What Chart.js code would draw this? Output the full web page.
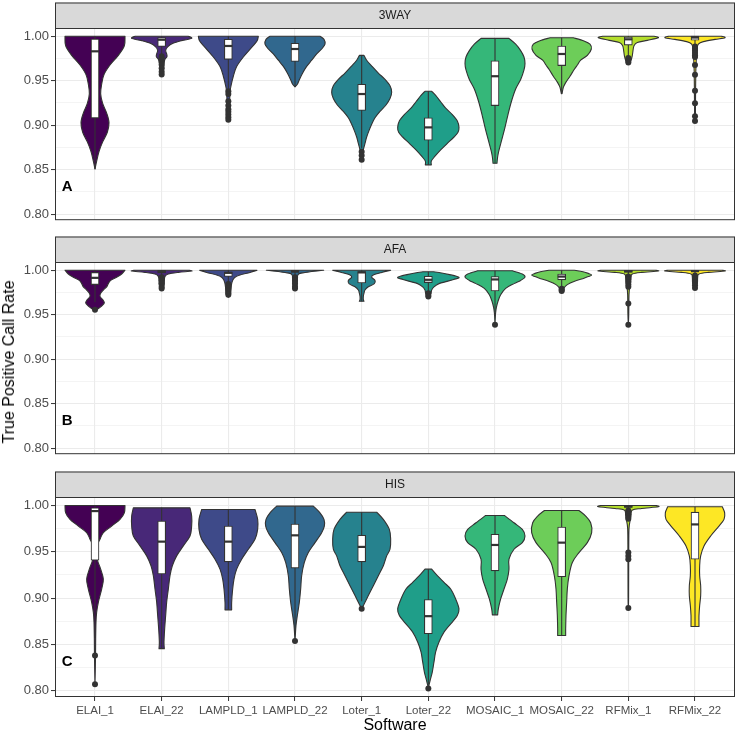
<!DOCTYPE html>
<html><head><meta charset="utf-8">
<script src="https://cdn.jsdelivr.net/npm/chart.js@4.4.1/dist/chart.umd.min.js"></script>
<style>
html,body{margin:0;padding:0;background:#fff;}
#wrap{position:relative;width:738px;height:735px;overflow:hidden;font-family:"Liberation Sans",Arial,sans-serif;background:#fff;}
canvas{position:absolute;left:0;}
#ytitle{position:absolute;left:9px;top:362px;transform:translate(-50%,-50%) rotate(-90deg);font-size:16px;white-space:nowrap;color:#000;line-height:1;}
</style></head>
<body><div id="wrap">
<canvas id="cA" width="738" height="230" style="top:0px"></canvas>
<canvas id="cB" width="738" height="230" style="top:234px"></canvas>
<canvas id="cC" width="738" height="267" style="top:468px"></canvas>
<div id="ytitle">True Positive Call Rate</div>
</div>
<script>
// ---------- data ----------
const categories = ['ELAI_1','ELAI_22','LAMPLD_1','LAMPLD_22','Loter_1','Loter_22','MOSAIC_1','MOSAIC_22','RFMix_1','RFMix_22'];
const panelNames = ['3WAY','AFA','HIS'];
const panelLetters = ['A','B','C'];
const yTickValues = [0.80,0.825,0.85,0.875,0.90,0.925,0.95,0.975,1.00];
const palette = ['#440154','#482878','#3E4A89','#31688E','#26828E','#1F9E89','#35B779','#6DCD59','#B4DE2C','#FDE725'];

// Panel A (3WAY): box stats
const q1A  = [0.908, 0.9885, 0.974, 0.9716, 0.9165, 0.883, 0.922, 0.967, 0.990, 0.9955];
const medA = [0.983, 0.996, 0.989, 0.9856, 0.935, 0.8975, 0.955, 0.980, 0.9965, 0.9985];
const q3A  = [0.9968, 0.9985, 0.9965, 0.992, 0.946, 0.9083, 0.9723, 0.989, 0.999, 1.000];
const loA  = [0.8506, 0.979, 0.941, 0.943, 0.874, 0.8554, 0.8572, 0.9353, 0.977, 0.9888];
const hiA  = [1.000, 1.000, 1.000, 1.000, 0.9784, 0.9381, 0.9975, 0.9982, 1.000, 1.000];
const outA = [[], [0.9775,0.975,0.971,0.968,0.964,0.960,0.957], [0.938,0.935,0.927,0.922,0.918,0.915,0.912,0.909,0.906], [], [0.870,0.866,0.861], [], [], [], [0.9755,0.974,0.972,0.9705], [0.9885,0.986,0.9835,0.981,0.9785,0.9766,0.9676,0.9568,0.9388,0.9245,0.9101,0.9047]];
// Panel A violin profiles: [value, half-width in category units]
const violinA = [
 [[1.0,0.45],[0.9892,0.44],[0.9784,0.35],[0.9676,0.225],[0.9568,0.135],[0.946,0.10],[0.9352,0.085],[0.9244,0.115],[0.9136,0.175],[0.9028,0.21],[0.892,0.185],[0.8812,0.115],[0.8704,0.06],[0.8596,0.025],[0.8506,0]],
 [[1.0,0.40],[0.9975,0.45],[0.995,0.30],[0.992,0.17],[0.988,0.09],[0.984,0.06],[0.980,0.075],[0.977,0.08],[0.974,0.05],[0.970,0.035],[0.965,0.03],[0.960,0.025],[0.956,0]],
 [[1.0,0.45],[0.9946,0.43],[0.9874,0.35],[0.9766,0.225],[0.9658,0.125],[0.955,0.075],[0.9442,0.04],[0.937,0.025],[0.925,0.02],[0.915,0.02],[0.906,0]],
 [[1.0,0.375],[0.9964,0.435],[0.991,0.45],[0.9856,0.40],[0.980,0.325],[0.973,0.25],[0.966,0.175],[0.9586,0.115],[0.951,0.065],[0.946,0.035],[0.943,0]],
 [[0.9784,0.035],[0.973,0.075],[0.9658,0.16],[0.9586,0.25],[0.9514,0.35],[0.9442,0.425],[0.937,0.45],[0.9299,0.425],[0.9227,0.365],[0.9155,0.275],[0.9083,0.2],[0.9011,0.15],[0.8939,0.11],[0.8867,0.075],[0.8795,0.05],[0.8723,0.025],[0.8651,0.012],[0.8605,0]],
 [[0.9381,0.05],[0.9335,0.11],[0.9263,0.185],[0.9191,0.26],[0.9119,0.36],[0.9047,0.435],[0.8975,0.46],[0.8921,0.445],[0.8867,0.385],[0.8795,0.285],[0.8723,0.185],[0.8651,0.10],[0.8597,0.045],[0.8554,0.045]],
 [[0.9975,0.21],[0.991,0.31],[0.9838,0.385],[0.9766,0.435],[0.9694,0.45],[0.9622,0.435],[0.9514,0.385],[0.9406,0.31],[0.9263,0.245],[0.9119,0.195],[0.8975,0.15],[0.8831,0.10],[0.8687,0.05],[0.8615,0.035],[0.8572,0.03]],
 [[0.9982,0.175],[0.9946,0.335],[0.991,0.425],[0.9856,0.445],[0.9784,0.385],[0.973,0.285],[0.9676,0.235],[0.9622,0.185],[0.955,0.125],[0.9478,0.06],[0.9424,0.025],[0.9353,0.005]],
 [[1.0,0.385],[0.9982,0.45],[0.9953,0.285],[0.9928,0.135],[0.9892,0.085],[0.9838,0.07],[0.9784,0.06],[0.973,0.04],[0.9687,0]],
 [[1.0,0.40],[0.9982,0.45],[0.9964,0.30],[0.9939,0.125],[0.991,0.05],[0.985,0.03],[0.975,0.02],[0.96,0.012],[0.93,0.008],[0.905,0.006],[0.9045,0]]
];

// Panel B (AFA)
const q1B  = [0.9838, 0.997, 0.993, 0.9975, 0.9856, 0.986, 0.9766, 0.9892, 0.9975, 0.998];
const medB = [0.9914, 0.9985, 0.997, 0.9988, 0.9975, 0.9892, 0.9896, 0.9928, 0.999, 0.999];
const q3B  = [0.9975, 0.9995, 0.998, 0.9998, 0.9985, 0.9932, 0.9928, 0.9957, 0.9998, 0.9998];
const loB  = [0.964, 0.9935, 0.986, 0.994, 0.9651, 0.9755, 0.9525, 0.980, 0.994, 0.9955];
const hiB  = [1.0, 1.0, 1.0, 1.0, 1.0, 0.9982, 0.9993, 1.0, 1.0, 1.0];
const outB = [[0.9555], [0.992,0.9885,0.985,0.9813,0.9795], [0.9845,0.9813,0.9795,0.9777,0.9759,0.9741,0.9723], [0.992,0.9885,0.985,0.9813,0.9795], [], [0.9741,0.972,0.9705], [0.9388], [0.979,0.9777,0.9766], [0.993,0.990,0.9867,0.9838,0.9813,0.9626,0.9388], [0.9939,0.9903,0.9867,0.983,0.980]];
const violinB = [
 [[1.0,0.45],[0.9957,0.40],[0.9921,0.325],[0.9885,0.235],[0.9849,0.20],[0.9813,0.175],[0.9777,0.125],[0.9741,0.085],[0.9705,0.075],[0.9669,0.115],[0.9633,0.14],[0.9597,0.10],[0.9561,0.035],[0.9536,0]],
 [[1.0,0.40],[0.999,0.45],[0.9975,0.25],[0.9957,0.10],[0.993,0.05],[0.9885,0.04],[0.983,0.035],[0.9784,0]],
 [[1.0,0.43],[0.9975,0.325],[0.9946,0.175],[0.9921,0.10],[0.9885,0.065],[0.9849,0.05],[0.9795,0.04],[0.9723,0.025],[0.9698,0]],
 [[1.0,0.43],[0.9982,0.225],[0.9964,0.075],[0.9939,0.04],[0.988,0.035],[0.980,0.025],[0.977,0]],
 [[1.0,0.435],[0.9975,0.30],[0.9946,0.175],[0.9921,0.15],[0.9885,0.20],[0.9849,0.19],[0.9813,0.10],[0.9777,0.05],[0.9741,0.035],[0.9705,0.025],[0.9669,0.025],[0.9651,0.035]],
 [[0.9982,0.08],[0.9968,0.2],[0.995,0.32],[0.9932,0.42],[0.9914,0.46],[0.9896,0.38],[0.9874,0.28],[0.9849,0.16],[0.9813,0.085],[0.9777,0.05],[0.9741,0.04],[0.9701,0]],
 [[0.9993,0.26],[0.9957,0.41],[0.9921,0.45],[0.9885,0.385],[0.9849,0.285],[0.9795,0.16],[0.9723,0.085],[0.9651,0.045],[0.9579,0.02],[0.9525,0.01],[0.9489,0.006],[0.9388,0]],
 [[1.0,0.19],[0.9982,0.32],[0.9964,0.40],[0.9946,0.45],[0.9928,0.40],[0.991,0.335],[0.9874,0.185],[0.9838,0.085],[0.9802,0.035],[0.9759,0]],
 [[1.0,0.40],[0.999,0.45],[0.9975,0.2],[0.9957,0.06],[0.992,0.04],[0.9867,0.035],[0.9813,0.02],[0.972,0.01],[0.95,0.006],[0.9388,0]],
 [[1.0,0.40],[0.999,0.45],[0.9975,0.2],[0.9957,0.06],[0.992,0.04],[0.985,0.035],[0.9795,0]]
];

// Panel C (HIS)
const q1C  = [0.941, 0.926, 0.9392, 0.9324, 0.9392, 0.8615, 0.9295, 0.9231, 0.998, 0.942];
const medC = [0.994, 0.961, 0.961, 0.9678, 0.9553, 0.8805, 0.9574, 0.9599, 0.999, 0.9796];
const q3C  = [0.9975, 0.9832, 0.9778, 0.980, 0.9678, 0.8984, 0.9689, 0.9767, 0.9998, 0.9928];
const loC  = [0.857, 0.8454, 0.8873, 0.861, 0.8965, 0.8065, 0.8819, 0.8597, 0.9955, 0.8694];
const hiC  = [1.0, 0.9975, 0.9957, 0.9993, 0.9928, 0.9313, 0.9893, 0.9946, 1.0, 0.9986];
const outC = [[0.838,0.807], [], [], [0.8537], [0.8884], [0.8025], [], [], [0.9945,0.9932,0.9903,0.9878,0.9857,0.9492,0.9456,0.942,0.8894], []];
const violinC = [
 [[1.0,0.45],[0.9921,0.44],[0.985,0.375],[0.9778,0.25],[0.9707,0.125],[0.9635,0.075],[0.9564,0.035],[0.942,0.035],[0.9313,0.085],[0.9206,0.125],[0.9098,0.10],[0.8955,0.05],[0.8848,0.025],[0.8741,0.015],[0.856,0.01],[0.838,0.008],[0.807,0]],
 [[0.9975,0.425],[0.9886,0.45],[0.9778,0.45],[0.9671,0.425],[0.9564,0.325],[0.9456,0.225],[0.9349,0.16],[0.9242,0.125],[0.9098,0.10],[0.8955,0.075],[0.8812,0.06],[0.8669,0.045],[0.8526,0.035],[0.8454,0.04]],
 [[0.9957,0.40],[0.985,0.44],[0.9742,0.44],[0.9635,0.40],[0.9528,0.30],[0.942,0.20],[0.9313,0.125],[0.9206,0.085],[0.9098,0.065],[0.8955,0.05],[0.8873,0.05]],
 [[0.9993,0.275],[0.9921,0.375],[0.985,0.435],[0.9778,0.44],[0.9707,0.40],[0.9599,0.30],[0.9492,0.20],[0.9385,0.14],[0.9242,0.10],[0.9098,0.085],[0.8955,0.065],[0.8812,0.035],[0.8705,0.015],[0.8597,0.005],[0.8537,0]],
 [[0.9928,0.225],[0.985,0.325],[0.9742,0.415],[0.9635,0.435],[0.9528,0.425],[0.9456,0.375],[0.9349,0.325],[0.9242,0.25],[0.9134,0.175],[0.9027,0.10],[0.8955,0.05],[0.8884,0]],
 [[0.9313,0.05],[0.9242,0.135],[0.917,0.235],[0.9098,0.335],[0.8991,0.41],[0.8884,0.46],[0.8812,0.435],[0.8741,0.36],[0.8633,0.235],[0.8526,0.16],[0.8419,0.11],[0.8311,0.085],[0.8204,0.06],[0.8132,0.035],[0.8061,0.01],[0.8025,0]],
 [[0.9893,0.14],[0.9814,0.285],[0.9742,0.41],[0.9671,0.45],[0.9599,0.41],[0.9528,0.285],[0.942,0.21],[0.9313,0.21],[0.9206,0.185],[0.9098,0.135],[0.8991,0.085],[0.8884,0.05],[0.8819,0.04]],
 [[0.9946,0.26],[0.9886,0.36],[0.9814,0.435],[0.9707,0.45],[0.9599,0.385],[0.9492,0.26],[0.9385,0.16],[0.9242,0.11],[0.9098,0.085],[0.8955,0.075],[0.8812,0.065],[0.8669,0.06],[0.8597,0.06]],
 [[1.0,0.42],[0.9986,0.45],[0.9968,0.2],[0.995,0.06],[0.99,0.04],[0.985,0.03],[0.975,0.01],[0.95,0.006],[0.90,0.004],[0.8894,0]],
 [[0.9986,0.41],[0.9921,0.445],[0.985,0.435],[0.9778,0.36],[0.9671,0.235],[0.9564,0.135],[0.9456,0.085],[0.9349,0.07],[0.9242,0.07],[0.9134,0.085],[0.9027,0.085],[0.892,0.07],[0.8812,0.06],[0.8694,0.06]]
];

// ---------- layout / style ----------
const FONT = '"Liberation Sans", Arial, Helvetica, sans-serif';
const Y_MIN = 0.7932, Y_MAX = 1.0092;
const panels = {
  cA: {name: panelNames[0], letter: panelLetters[0], q1: q1A, med: medA, q3: q3A, lo: loA, hi: hiA, out: outA, violin: violinA, padTop: 28, bottom: false},
  cB: {name: panelNames[1], letter: panelLetters[1], q1: q1B, med: medB, q3: q3B, lo: loB, hi: hiB, out: outB, violin: violinB, padTop: 28, bottom: false},
  cC: {name: panelNames[2], letter: panelLetters[2], q1: q1C, med: medC, q3: q3C, lo: loC, hi: hiC, out: outC, violin: violinC, padTop: 29, bottom: true}
};
const isMajor = v => Math.abs(v * 20 - Math.round(v * 20)) < 1e-6;

function sidePath(ctx, pts, cx, right, first) {
  if (first) ctx.moveTo(pts[0][0], pts[0][1]); else ctx.lineTo(pts[0][0], pts[0][1]);
  const n = pts.length;
  const clampX = x => right ? Math.max(x, cx) : Math.min(x, cx);
  for (let i = 0; i < n - 1; i++) {
    const p0 = pts[i - 1] || pts[i], p1 = pts[i], p2 = pts[i + 1], p3 = pts[i + 2] || pts[i + 1];
    const c1x = clampX(p1[0] + (p2[0] - p0[0]) / 6), c1y = p1[1] + (p2[1] - p0[1]) / 6;
    const c2x = clampX(p2[0] - (p3[0] - p1[0]) / 6), c2y = p2[1] - (p3[1] - p1[1]) / 6;
    ctx.bezierCurveTo(c1x, c1y, c2x, c2y, p2[0], p2[1]);
  }
}

const panelPlugin = {
  id: 'violinPanel',
  beforeDatasetsDraw(chart) {
    const P = panels[chart.canvas.id];
    const xs = chart.scales.x, ys = chart.scales.y, ctx = chart.ctx, a = chart.chartArea;
    const unit = xs.getPixelForValue(1) - xs.getPixelForValue(0);
    ctx.save();
    ctx.beginPath(); ctx.rect(a.left, a.top, a.right - a.left, a.bottom - a.top); ctx.clip();
    P.violin.forEach((prof, i) => {
      const cx = xs.getPixelForValue(i);
      const R = prof.map(p => [cx + p[1] * unit, ys.getPixelForValue(p[0])]);
      const L = prof.map(p => [cx - p[1] * unit, ys.getPixelForValue(p[0])]).reverse();
      ctx.beginPath();
      sidePath(ctx, R, cx, true, true);
      sidePath(ctx, L, cx, false, false);
      ctx.closePath();
      ctx.fillStyle = palette[i];
      ctx.fill();
      ctx.lineWidth = 1.1; ctx.strokeStyle = '#333333'; ctx.lineJoin = 'round';
      ctx.stroke();
    });
    ctx.strokeStyle = '#333333'; ctx.lineWidth = 1.1;
    categories.forEach((c, i) => {
      const x = xs.getPixelForValue(i);
      ctx.beginPath();
      ctx.moveTo(x, ys.getPixelForValue(P.lo[i]));
      ctx.lineTo(x, ys.getPixelForValue(P.hi[i]));
      ctx.stroke();
    });
    ctx.restore();
  },
  afterDatasetDraw(chart, args) {
    if (args.index !== 0) return;
    const P = panels[chart.canvas.id];
    const ys = chart.scales.y, ctx = chart.ctx;
    const meta = chart.getDatasetMeta(0);
    ctx.save();
    ctx.strokeStyle = '#333333'; ctx.lineWidth = 2.2; ctx.lineCap = 'butt';
    meta.data.forEach((el, i) => {
      const y = ys.getPixelForValue(P.med[i]);
      ctx.beginPath(); ctx.moveTo(el.x - el.width / 2, y); ctx.lineTo(el.x + el.width / 2, y); ctx.stroke();
    });
    ctx.restore();
  },
  afterDraw(chart) {
    const P = panels[chart.canvas.id];
    const xs = chart.scales.x, ys = chart.scales.y, ctx = chart.ctx, a = chart.chartArea;
    ctx.save();
    // panel letter
    ctx.font = 'bold 15px ' + FONT; ctx.fillStyle = '#000'; ctx.textAlign = 'left'; ctx.textBaseline = 'middle';
    ctx.fillText(P.letter, xs.getPixelForValue(-0.5), ys.getPixelForValue(0.831));
    // strip
    const sh = 25.5;
    ctx.fillStyle = '#d9d9d9';
    ctx.fillRect(a.left, a.top - sh, a.right - a.left, sh);
    ctx.strokeStyle = '#333333'; ctx.lineWidth = 1;
    ctx.strokeRect(a.left + 0.5, a.top - sh + 0.5, a.right - a.left - 1, sh);
    ctx.fillStyle = '#1a1a1a'; ctx.font = '12px ' + FONT; ctx.textAlign = 'center'; ctx.textBaseline = 'middle';
    ctx.fillText(P.name, (a.left + a.right) / 2, a.top - sh / 2 + 0.5);
    // panel border
    ctx.strokeStyle = '#333333'; ctx.lineWidth = 1;
    ctx.strokeRect(a.left + 0.5, a.top + 0.5, a.right - a.left - 1, a.bottom - a.top - 1);
    ctx.restore();
  }
};

function makeChart(id) {
  const P = panels[id];
  const isBottom = P.bottom;
  const datasets = [
    {type: 'bar', data: categories.map((c, i) => ({x: i, y: [P.q1[i], P.q3[i]]})),
     backgroundColor: '#ffffff', borderColor: '#333333', borderWidth: 1.1, barThickness: 8,
     borderSkipped: false, grouped: false, order: 2},
    {type: 'scatter', data: P.out.flatMap((arr, i) => arr.map(v => ({x: i, y: v}))),
     pointRadius: 3, pointHoverRadius: 3, backgroundColor: '#333333', borderColor: '#333333', borderWidth: 0, order: 1}
  ];
  return new Chart(document.getElementById(id), {
    type: 'bar',
    data: {datasets},
    options: {
      responsive: false, animation: false, devicePixelRatio: 1, events: [],
      layout: {padding: {top: P.padTop, left: 0, right: 3, bottom: isBottom ? 0 : 2}},
      plugins: {legend: {display: false}, tooltip: {enabled: false}, title: {display: false}},
      scales: {
        x: {
          type: 'linear', min: -0.6, max: 9.6, offset: false,
          afterBuildTicks: s => { s.ticks = categories.map((c, i) => ({value: i})); },
          afterFit: s => { s.height = isBottom ? 38 : 0; },
          grid: {offset: false, color: '#ebebeb', lineWidth: 1.1, drawTicks: isBottom, tickLength: 4, tickColor: '#333333', tickWidth: 1},
          border: {display: false},
          ticks: {display: isBottom, autoSkip: false, maxRotation: 0, minRotation: 0, padding: 3, color: '#4d4d4d',
                  font: {family: FONT, size: 11.5}, callback: v => categories[Math.round(v)]},
          title: {display: isBottom, text: 'Software', color: '#000000', font: {family: FONT, size: 16}, padding: {top: 0, bottom: 0}}
        },
        y: {
          type: 'linear', min: Y_MIN, max: Y_MAX, beginAtZero: false,
          afterBuildTicks: s => { s.ticks = yTickValues.map(v => ({value: v})); },
          afterFit: s => { s.width = 55; },
          border: {display: false},
          grid: {
            color: '#ebebeb',
            lineWidth: c => (c.tick && !isMajor(c.tick.value)) ? 0.55 : 1.1,
            drawTicks: true, tickLength: 4, tickWidth: 1,
            tickColor: c => (c.tick && isMajor(c.tick.value)) ? '#333333' : 'rgba(0,0,0,0)'
          },
          ticks: {padding: 2, color: '#4d4d4d', font: {family: FONT, size: 13},
                  callback: v => isMajor(v) ? v.toFixed(2) : ''}
        }
      }
    },
    plugins: [panelPlugin]
  });
}
['cA', 'cB', 'cC'].forEach(makeChart);
</script>
</body></html>
